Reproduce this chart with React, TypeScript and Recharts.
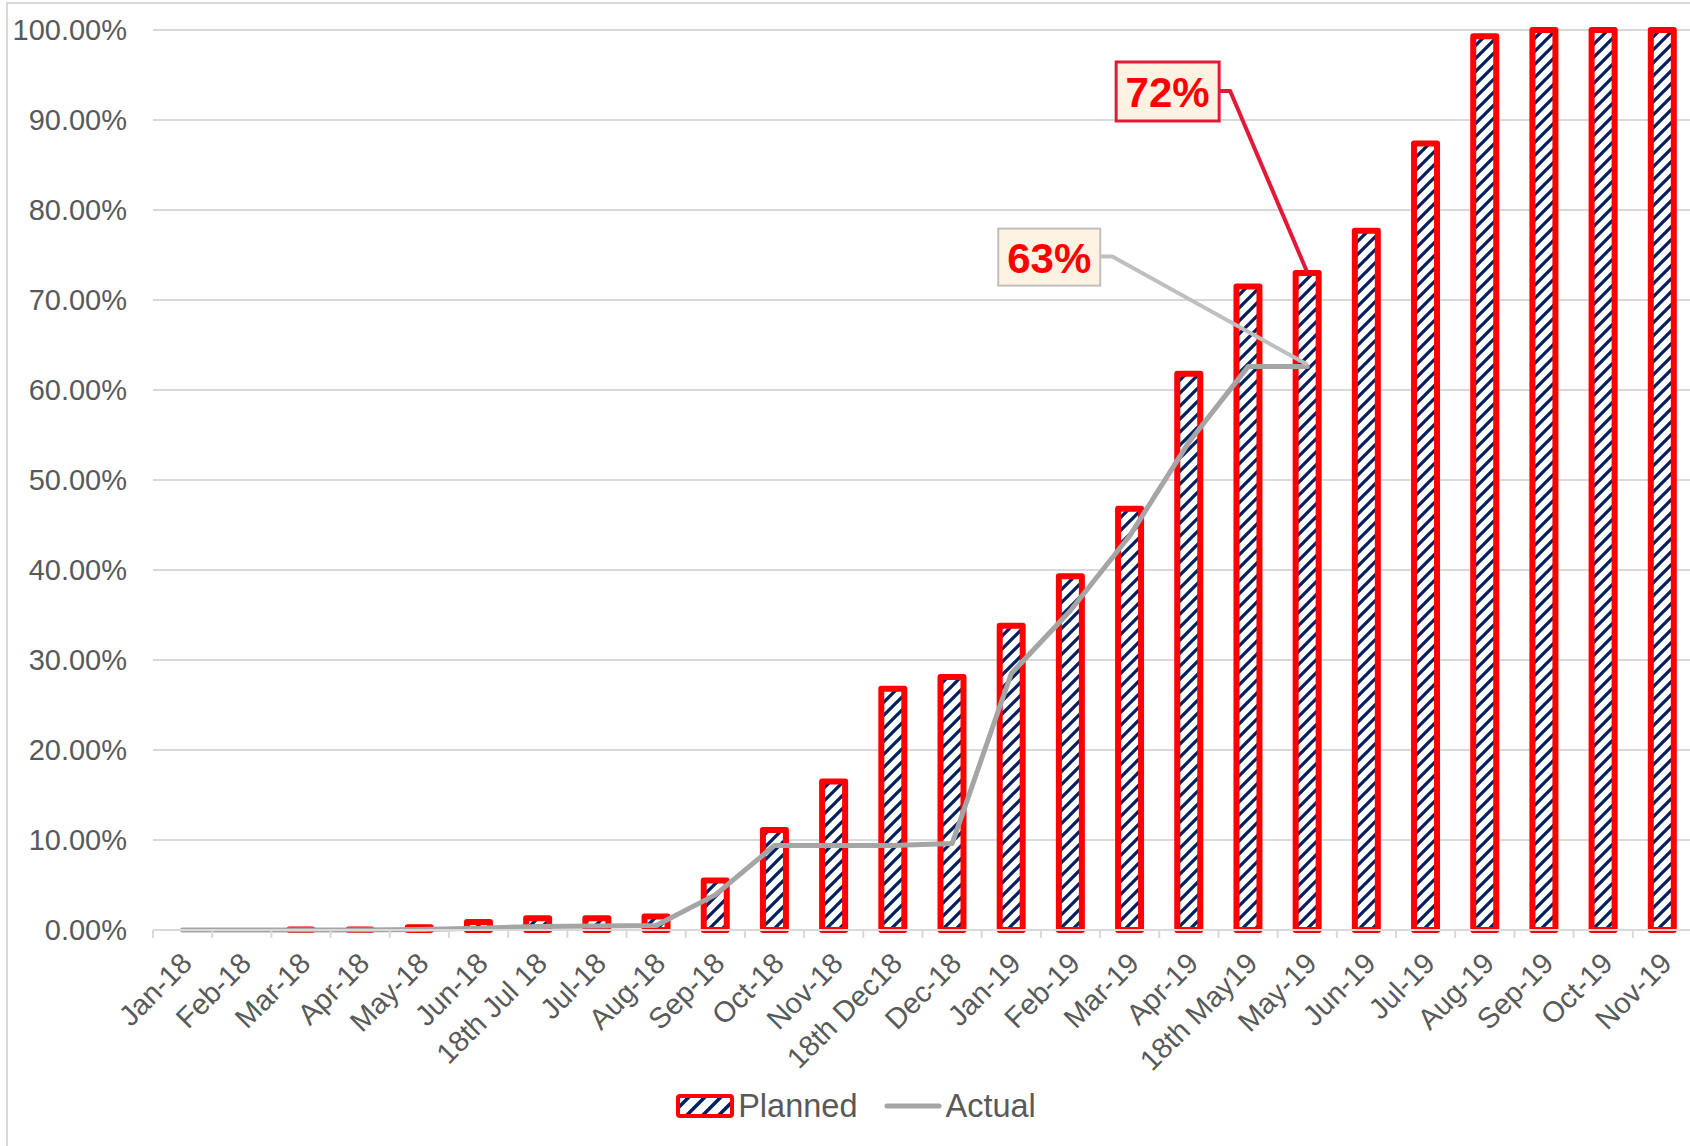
import React from 'react';
import { ComposedChart, Bar, Line, XAxis, YAxis, CartesianGrid, Legend, LabelList } from 'recharts';

const months = ['Jan-18','Feb-18','Mar-18','Apr-18','May-18','Jun-18','18th Jul 18','Jul-18','Aug-18','Sep-18','Oct-18','Nov-18','18th Dec18','Dec-18','Jan-19','Feb-19','Mar-19','Apr-19','18th May19','May-19','Jun-19','Jul-19','Aug-19','Sep-19','Oct-19','Nov-19'];
const planned = [0,0,0.05,0.05,0.3,0.9,1.3,1.3,1.5,5.5,11.1,16.5,26.8,28.1,33.8,39.3,46.8,61.8,71.5,73.0,77.7,87.4,99.3,100,100,100];
const actual: (number | null)[] = [0,0,0,0,0.05,0.2,0.4,0.45,0.5,3.9,9.4,9.4,9.4,9.6,28.5,35.5,43.8,54.2,62.6,62.6,null,null,null,null,null,null];
const yTicks = [0,10,20,30,40,50,60,70,80,90,100];
const seriesNames = ['Planned', 'Actual'];
const plannedCallout = { month: 'May-19', text: '72%' };
const actualCallout = { month: 'May-19', text: '63%' };

const data = months.map((m, i) => ({
  month: m,
  planned: planned[i],
  actual: actual[i],
  plannedLabel: m === plannedCallout.month ? plannedCallout.text : null,
  actualLabel: m === actualCallout.month ? actualCallout.text : null,
}));

const FONT = '"Liberation Sans", Arial, sans-serif';
const TEXT = '#595959';
const GRID = '#D9D9D9';
const RED = '#FF0000';
const NAVY = '#002060';
const LINE = '#A5A5A5';

const XTick = (props: any) => {
  const { x, y, payload } = props;
  const half = payload && typeof payload.offset === 'number' && payload.offset > 0 ? payload.offset : 29.6;
  return (
    <g>
      <line x1={x - half} x2={x - half} y1={y} y2={y + 8} stroke={GRID} strokeWidth={2} />
      <g transform={`translate(${x + 4},${y + 28})`}>
        <text transform="rotate(-45)" textAnchor="end" dominantBaseline="central" fill={TEXT} fontSize={29} fontFamily={FONT}>
          {payload.value}
        </text>
      </g>
    </g>
  );
};

const PlannedCallout = (props: any) => {
  const { x, y, width, value } = props;
  if (!value) return null;
  const px = x + width / 2;
  const py = y;
  return (
    <g>
      <polyline points={`${px - 88},${py - 182} ${px - 77},${py - 182} ${px},${py - 1}`} fill="none" stroke="#E31937" strokeWidth={4} strokeLinejoin="round" />
      <rect x={px - 191} y={py - 211} width={103} height={59} fill="#FEF3E2" stroke="#E31937" strokeWidth={3} />
      <text x={px - 139.5} y={py - 181} textAnchor="middle" dominantBaseline="central" fill={RED} fontSize={42} fontWeight="bold" fontFamily={FONT}>{value}</text>
    </g>
  );
};

const ActualCallout = (props: any) => {
  const { x, y, value } = props;
  if (!value || y == null) return null;
  const px = x;
  const py = y;
  return (
    <g>
      <polyline points={`${px - 207},${py - 110} ${px - 195},${py - 110} ${px},${py - 2}`} fill="none" stroke="#BFBFBF" strokeWidth={4} strokeLinejoin="round" />
      <rect x={px - 309} y={py - 138} width={102} height={57} fill="#FEF3E2" stroke="#BFBFBF" strokeWidth={2} />
      <text x={px - 258} y={py - 108} textAnchor="middle" dominantBaseline="central" fill={RED} fontSize={42} fontWeight="bold" fontFamily={FONT}>{value}</text>
    </g>
  );
};

const LegendContent = () => (
  <div style={{ height: 52, display: 'flex', justifyContent: 'center', alignItems: 'center', paddingLeft: 20, fontFamily: FONT, fontSize: 32.5, color: TEXT }}>
    <svg width={58} height={24} style={{ display: 'block' }}>
      <defs>
        <pattern id="stripesLegend" patternUnits="userSpaceOnUse" width={16} height={16}>
          <rect width={16} height={16} fill="#fff" />
          <path d="M-4,4 l8,-8 M0,16 l16,-16 M12,20 l8,-8" stroke={NAVY} strokeWidth={3.5} />
        </pattern>
      </defs>
      <rect x={2} y={2} width={54} height={20} rx={2} fill="url(#stripesLegend)" stroke={RED} strokeWidth={4} />
    </svg>
    <span style={{ marginLeft: 4 }}>{seriesNames[0]}</span>
    <svg width={58} height={24} style={{ display: 'block', marginLeft: 27 }}>
      <line x1={3} x2={55} y1={12} y2={12} stroke={LINE} strokeWidth={5} strokeLinecap="round" />
    </svg>
    <span style={{ marginLeft: 3 }}>{seriesNames[1]}</span>
  </div>
);

export default function App() {
  return (
    <div style={{ position: 'absolute', left: 0, top: 0, width: 1690, height: 1146, overflow: 'hidden', background: '#fff' }}>
      <div style={{ position: 'absolute', left: 6, top: 2, width: 1720, height: 1200, border: `2px solid ${GRID}`, boxSizing: 'border-box' }} />
      <div style={{ position: 'absolute', left: 0, top: 0 }}>
        <ComposedChart width={1700} height={1146} data={data} margin={{ top: 30, right: 8, left: 0, bottom: 14 }}>
          <defs>
            <pattern id="stripes" patternUnits="userSpaceOnUse" width={13} height={13}>
              <rect width={13} height={13} fill="#fff" />
              <path d="M-3.25,3.25 l6.5,-6.5 M0,13 l13,-13 M9.75,16.25 l6.5,-6.5" stroke={NAVY} strokeWidth={3.3} />
            </pattern>
          </defs>
          <CartesianGrid vertical={false} stroke={GRID} strokeWidth={2} />
          <XAxis dataKey="month" interval={0} height={150} tickLine={false} tickSize={0} tickMargin={0} axisLine={{ stroke: GRID, strokeWidth: 2 }} tick={<XTick />} />
          <YAxis width={153} domain={[0, 100]} ticks={yTicks} axisLine={false} tickLine={false} tickSize={6} tickMargin={20}
            tickFormatter={(v: number) => `${v.toFixed(2)}%`}
            tick={{ fill: TEXT, fontSize: 29, fontFamily: FONT }} />
          <Legend verticalAlign="bottom" content={<LegendContent />} />
          <Bar dataKey="planned" name={seriesNames[0]} barSize={23} fill="url(#stripes)" stroke={RED} strokeWidth={6} strokeLinejoin="round" isAnimationActive={false}>
            <LabelList dataKey="plannedLabel" content={<PlannedCallout />} />
          </Bar>
          <Line dataKey="actual" name={seriesNames[1]} stroke={LINE} strokeWidth={5} strokeLinecap="round" strokeLinejoin="round" dot={false} activeDot={false} connectNulls={false} isAnimationActive={false}>
            <LabelList dataKey="actualLabel" content={<ActualCallout />} />
          </Line>
        </ComposedChart>
      </div>
    </div>
  );
}
